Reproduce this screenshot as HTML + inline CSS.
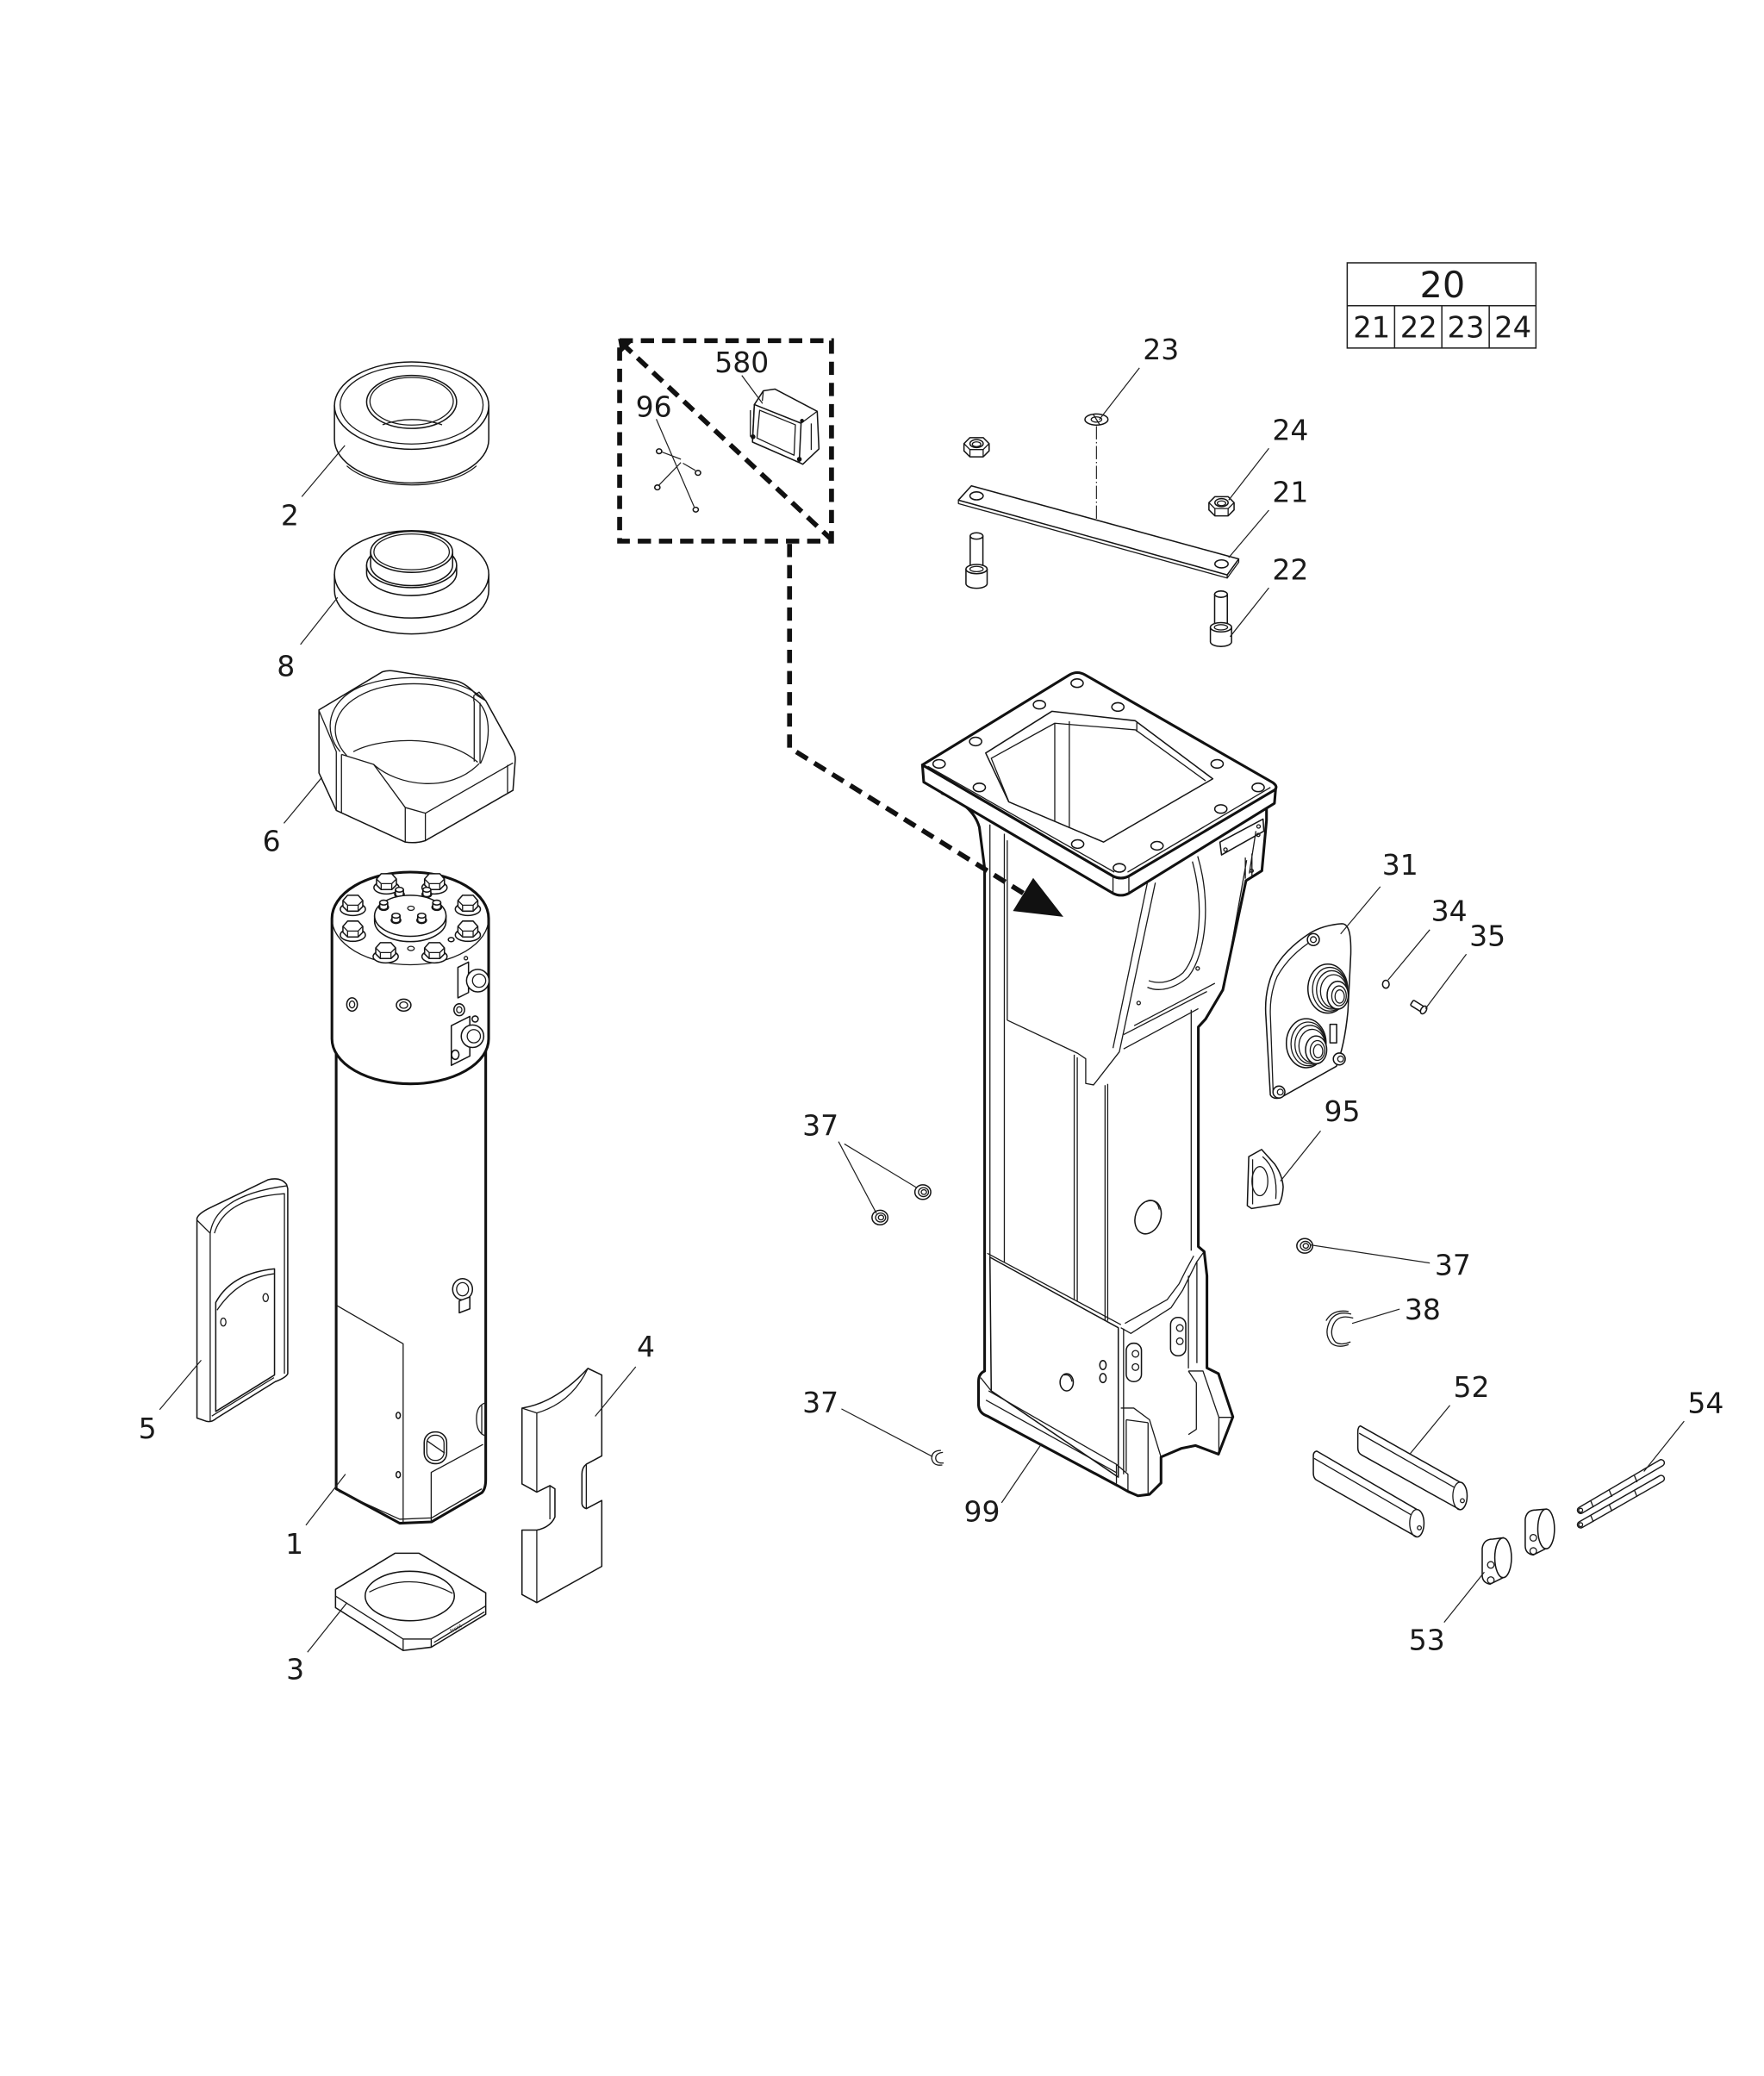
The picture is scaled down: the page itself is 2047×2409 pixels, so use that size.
<!DOCTYPE html>
<html><head><meta charset="utf-8"><style>
html,body{margin:0;padding:0;background:#fff}
svg{display:block}
text{font-family:"DejaVu Sans","Liberation Sans",sans-serif;fill:#1a1a1a}
.l{fill:none;stroke:#222;stroke-width:.8}
.p{fill:#fff;stroke:#151515;stroke-width:1;stroke-linejoin:round}
.k{fill:#fff;stroke:#111;stroke-width:2;stroke-linejoin:round}
.n{fill:none;stroke:#1a1a1a;stroke-width:.85;stroke-linejoin:round}
.nk{fill:none;stroke:#111;stroke-width:2;stroke-linejoin:round;stroke-linecap:round}
.d{fill:none;stroke:#111;stroke-width:3.7;stroke-dasharray:10,6}
</style></head><body>
<svg width="2047" height="2409" viewBox="0 0 1332.9 1568.7" xmlns="http://www.w3.org/2000/svg">
<defs>
<g id="hb">
<ellipse class="p" cx="0" cy="4" rx="9.5" ry="4.8" stroke-width="1.2"/>
<path class="p" d="M-7.5,-2.5 L-4,-6.5 L4,-6.5 L7.5,-2.5 V2 L4,5.5 L-4,5.5 L-7.5,2 Z" stroke-width="1.2"/>
<path class="n" d="M-7.5,-2.5 L-4,1 L4,1 L7.5,-2.5 M-4,1 V5.5 M4,1 V5.5"/>
</g>
<g id="nut">
<path class="p" d="M-9.5,-2.5 L-5,-7 L5,-7 L9.5,-2.5 V3 L5,7.5 L-5,7.5 L-9.5,3 Z"/>
<path class="n" d="M-9.5,-2.5 L-5,2 L5,2 L9.5,-2.5 M-5,2 V7.5 M5,2 V7.5"/>
<ellipse class="p" cx="0" cy="-2.5" rx="5" ry="3"/>
<ellipse class="n" cx="0" cy="-2" rx="3.2" ry="1.8"/>
</g>
<g id="cs">
<path class="p" d="M-4.8,3 V26 A4.8,2.4 0 0 0 4.8,26 V3 Z"/>
<ellipse class="p" cx="0" cy="3" rx="4.8" ry="2.4"/>
<path class="p" d="M-8,28 V39 A8,3.5 0 0 0 8,39 V28 Z"/>
<ellipse class="p" cx="0" cy="28" rx="8" ry="3.5"/>
<ellipse class="n" cx="0" cy="28" rx="5" ry="2"/>
</g>
<g id="r37">
<ellipse class="p" cx="0" cy="0" rx="6" ry="5.5" stroke-width="1.4"/>
<ellipse class="n" cx="0.5" cy="0" rx="3.8" ry="3.4" stroke-width="1.1"/>
<ellipse class="n" cx="0.8" cy="0" rx="2" ry="1.8" stroke-width="1.1"/>
</g>
<g id="ss">
<ellipse class="p" cx="0" cy="1.5" rx="3.6" ry="2.4"/>
<path class="p" d="M-3,-2 V1.5 A3,1.8 0 0 0 3,1.5 V-2 Z"/>
<ellipse class="p" cx="0" cy="-2" rx="3" ry="1.8"/>
</g>
<g id="conn">
<ellipse class="p" cx="0" cy="0" rx="15" ry="18.5" stroke-width="1.8"/>
<ellipse class="n" cx="1.5" cy="0.5" rx="13" ry="16.5" stroke-width="1.4"/>
<ellipse class="n" cx="3" cy="1" rx="11.5" ry="14.5" stroke-width="1.5"/>
<ellipse class="n" cx="4.5" cy="2" rx="10" ry="12.5" stroke-width="1.3"/>
<ellipse class="p" cx="7.5" cy="5" rx="8" ry="10.5" stroke-width="1.3"/>
<ellipse class="n" cx="8.5" cy="5.5" rx="5.5" ry="7.5" stroke-width="1.1"/>
<ellipse class="n" cx="9" cy="6" rx="3.5" ry="5" stroke-width="1.1"/>
</g>
</defs>

<!-- ===== Table ===== -->
<rect x="1018" y="198.6" width="142.6" height="64.4" fill="#fff" stroke="#222" stroke-width="1"/>
<line x1="1018" y1="231" x2="1160.6" y2="231" stroke="#222" stroke-width="1"/>
<line x1="1053.8" y1="231" x2="1053.8" y2="263" stroke="#222" stroke-width="1"/>
<line x1="1089.5" y1="231" x2="1089.5" y2="263" stroke="#222" stroke-width="1"/>
<line x1="1125.3" y1="231" x2="1125.3" y2="263" stroke="#222" stroke-width="1"/>
<text x="1090" y="224.8" font-size="27" text-anchor="middle">20</text>
<text x="1036.5" y="255" font-size="22" text-anchor="middle">21</text>
<text x="1072" y="255" font-size="22" text-anchor="middle">22</text>
<text x="1107.6" y="255" font-size="22" text-anchor="middle">23</text>
<text x="1143.2" y="255" font-size="22" text-anchor="middle">24</text>

<!-- ===== Part 2 ring ===== -->
<path class="p" d="M252.7,306.5 V332 A58.3,33 0 0 0 369.3,332 V306.5 Z" stroke-width="1.1"/>
<path class="n" d="M262,352 A56,28 0 0 0 360,352"/>
<ellipse class="p" cx="311" cy="306.5" rx="58.3" ry="33" stroke-width="1.1"/>
<ellipse class="n" cx="311" cy="306" rx="54" ry="29.5"/>
<ellipse class="p" cx="311" cy="303.7" rx="34" ry="20"/>
<ellipse class="n" cx="311" cy="303.2" rx="31.5" ry="18"/>
<path class="n" d="M289,321 Q311,313 334,321"/>

<!-- ===== Part 8 ===== -->
<path class="p" d="M252.7,434 V446 A58.3,33 0 0 0 369.3,446 V434 Z" stroke-width="1.1"/>
<ellipse class="p" cx="311" cy="434" rx="58.3" ry="33" stroke-width="1.1"/>
<path class="p" d="M277,427 V433 A34,17 0 0 0 345,433 V427 Z"/>
<ellipse class="p" cx="311" cy="427" rx="34" ry="17"/>
<path class="p" d="M280,417 V427 A31,15.5 0 0 0 342,427 V417 Z"/>
<ellipse class="p" cx="311" cy="417" rx="31" ry="15.5"/>
<ellipse class="n" cx="311" cy="417" rx="28.5" ry="13.5"/>

<!-- ===== Part 6 ===== -->
<path class="p" d="M241,536.4 L288.8,507.7 Q293,506.3 297.5,507 L345.3,514.6 Q353,517 360.5,525.5 L367,529.4 L387.6,566.8 Q389.8,571 389.2,576 L387.6,597.2 L321.4,635.2 Q314,637.5 306.2,636.3 L254.1,612.4 L241,584.1 Z" stroke-width="1.2"/>
<path class="n" d="M262,571 C248,556 250,536 275,524 C300,512 345,515 362,531 C372,542 370,562 363,577"/>
<path class="n" d="M257,568 C244,553 247,530 272,519 C300,507 348,511 365,528"/>
<path class="n" d="M267,568 C285,558 335,553 361,576"/>
<path class="n" d="M282.3,577.6 C300,594 340,600 362,577"/>
<path class="n" d="M241,537 L254.1,568 V612.4 M258,570 V614 M258,570 L282.3,577.6 L306.2,610.2 L321.4,614.5 L387.6,576.5 M306.2,610.2 V636 M321.4,614.5 V635 M358.3,529.8 V575.5 M362.7,531 V577 M358,525.5 L362,523 L367,529.4 M358,525.5 V530 M383.5,578 V599"/>

<!-- ===== Part 1 body ===== -->
<path class="k" d="M254,790 V1125 L302,1151 L326,1150 L364,1128 Q367,1125 367,1118 V790"/>
<path class="n" d="M254.8,986.7 L304.6,1015.4 V1151 M325.8,1150 V1112.6 L365,1091.4 M256,1127 L302,1148 L326,1147 L364,1125"/>
<ellipse class="p" cx="300.9" cy="1069.5" rx="1.6" ry="2.3"/>
<ellipse class="p" cx="300.9" cy="1114.3" rx="1.6" ry="2.3"/>
<rect class="p" x="320.5" y="1082" width="17" height="24" rx="8"/>
<rect class="n" x="322.5" y="1084.5" width="13" height="19" rx="6"/>
<path class="n" d="M323,1089 L336,1098"/>
<path class="n" d="M367,1060 Q360,1062 360,1072 Q360,1083 367,1085 M364,1062 V1084"/>
<ellipse class="p" cx="349.5" cy="974.2" rx="7.5" ry="8" stroke-width="1.2"/>
<ellipse class="n" cx="349.5" cy="974.2" rx="4.5" ry="5"/>
<path class="p" d="M347,983 L355,980 V989 L347,992 Z"/>

<!-- Part 1 head -->
<path class="k" d="M250.8,694 A59.2,35 0 0 1 369.2,694 V785 A59.2,34 0 0 1 250.8,785 Z"/>
<path class="n" d="M250.8,694 A59.2,35 0 0 0 369.2,694" stroke-width="1"/>
<use href="#hb" x="292" y="666.7"/>
<use href="#hb" x="328.3" y="666.7"/>
<use href="#ss" x="301.8" y="674.3"/>
<use href="#ss" x="322.5" y="674.3"/>
<use href="#hb" x="266.6" y="683"/>
<use href="#hb" x="353.5" y="683"/>
<path class="p" d="M283,692 V696 A27,15.5 0 0 0 337,696 V692 Z"/>
<ellipse class="p" cx="310" cy="692" rx="27" ry="15.5"/>
<use href="#ss" x="289.9" y="684"/>
<use href="#ss" x="330" y="684"/>
<use href="#ss" x="299.2" y="693.9"/>
<use href="#ss" x="318.6" y="693.9"/>
<ellipse class="n" cx="310.5" cy="686.3" rx="2.5" ry="1.6"/>
<use href="#hb" x="266.6" y="702.5"/>
<use href="#hb" x="353.5" y="702.5"/>
<ellipse class="n" cx="310.5" cy="716.7" rx="2.5" ry="1.6"/>
<ellipse class="p" cx="340.9" cy="710" rx="2.2" ry="1.6"/>
<use href="#hb" x="291.4" y="718.8"/>
<use href="#hb" x="328.3" y="718.8"/>
<path class="p" d="M346,731 L354,727 V750 L346,754 Z"/>
<circle class="p" cx="361" cy="741" r="8.5" stroke-width="1.4"/>
<circle class="n" cx="362" cy="741" r="5"/>
<circle class="n" cx="352" cy="724" r="1.3"/>
<path class="p" d="M341,775 L355,768 V798 L341,805 Z"/>
<circle class="p" cx="357" cy="783" r="8.5" stroke-width="1.4"/>
<circle class="n" cx="358" cy="783" r="5"/>
<ellipse class="p" cx="344" cy="797" rx="2.8" ry="3.5"/>
<circle class="p" cx="359" cy="770" r="2.3"/>
<ellipse class="p" cx="266" cy="759" rx="4" ry="5"/>
<ellipse class="n" cx="266" cy="759" rx="2" ry="2.6"/>
<ellipse class="p" cx="305" cy="759.5" rx="5.5" ry="4.5"/>
<ellipse class="n" cx="305" cy="759.5" rx="3" ry="2.4"/>
<ellipse class="p" cx="347" cy="763" rx="4" ry="4.5"/>
<ellipse class="n" cx="347" cy="763" rx="2" ry="2.3"/>

<!-- ===== Part 5 ===== -->
<path class="p" d="M148.8,920.6 Q150,917 158,913 L202.4,891.5 Q212,889 216.5,895 L217.4,898.2 V1038 Q216,1041 208,1044 L163.8,1071.5 Q160,1075 156,1074 L148.8,1071.5 Z" stroke-width="1.2"/>
<path class="n" d="M148.8,922 L158.8,931.9 V1074 M158.8,931.9 Q163,903 217,896 M162,931.9 Q170,905 214.9,902 V1038"/>
<path class="p" d="M163,984.2 Q175,962 207.4,958.8 V1039 L163,1066.5 Z"/>
<path class="n" d="M164,990 Q180,966 207,962.5 M160,1070 L207,1041"/>
<ellipse class="n" cx="168.7" cy="999" rx="2" ry="3"/>
<ellipse class="n" cx="200.7" cy="980.5" rx="2" ry="3"/>

<!-- ===== Part 4 ===== -->
<path class="p" d="M394.4,1064 Q420,1060 444.2,1034 L454.7,1039 V1100.1 L443,1106.4 Q439.7,1109 439.7,1113.8 V1136.3 Q440,1139 443,1140 L454.7,1133.8 V1183.6 L405.6,1211 L394.4,1204.9 V1156.2 L405.6,1156.2 Q416,1154 419.3,1146.3 V1125 L415.5,1122.6 L405.6,1127.5 L394.4,1121.3 Z" stroke-width="1.1"/>
<path class="n" d="M394.4,1064 L405.6,1067.7 Q432,1060 444.2,1034 M405.6,1067.7 V1127.5 M405.6,1156.2 V1211 M443,1106.4 V1140 M415.5,1122.6 V1148"/>

<!-- ===== Part 3 ===== -->
<path class="p" d="M253.5,1201 L298.4,1173.7 L316.6,1173.7 L367,1203.6 V1219.8 L325.8,1244.7 L304.6,1247.2 L253.5,1214.8 Z" stroke-width="1.1"/>
<path class="n" d="M253.5,1206 L304.6,1238.5 L325.8,1238.5 L367,1213.5 M304.6,1238.5 V1247.2 M325.8,1238.5 V1244.7 M328,1241 L366,1218"/>
<ellipse class="p" cx="309.6" cy="1206" rx="33.7" ry="18.7"/>
<path class="n" d="M279,1203 Q310,1187 342,1204"/>
<text x="0" y="0" font-size="4" transform="translate(341,1234) rotate(-30)">front</text>

<!-- ===== Frame 99 body ===== -->
<path d="M712,599.5 L744,656 V1036 L739.4,1062 L846,1123 L870,1129 L877,1101 L903,1092 L921,1099 L932,1071 L912,1034 V964 L905.5,942 V776 L924,748 L941.5,665.5 L957,620 L950,600 L850,670 Z" fill="#fff" stroke="none"/>
<path class="n" d="M748,623 V950 M758.9,630 V954 M761.1,635 V771"/>
<path class="n" d="M873,667 L845.8,794.8 L826.3,819.8 L820.4,818.7 V800 L814.3,795.9 L761.1,770.9 M867,667 L841,792"/>
<path class="n" d="M811.7,797 V982 M814,799 V983 M835,820 V998 M837,819 V998 M900.1,763 V945"/>
<path class="n" d="M905,647 C915,680 912,720 898,738 C888,747 876,750 867,746 M901,651 C910,684 907,720 894,735 C886,742 876,744 868,741"/>
<path class="n" d="M849,781.8 L912,749.2 M849,792.6 L905.5,762.2 M857,775 L918,743"/>
<circle class="n" cx="905" cy="731.8" r="1.3"/>
<circle class="n" cx="860.4" cy="757.9" r="1.3"/>
<ellipse class="p" cx="867.5" cy="919.7" rx="9.5" ry="13" transform="rotate(20 867.5 919.7)"/>
<path class="n" d="M866,908 Q874,905 876,914"/>
<!-- right bracket -->
<path class="p" d="M921.8,636.3 L954.4,618.9 L955,628 L923,646 Z"/>
<circle class="n" cx="926" cy="642" r="1.3"/>
<circle class="n" cx="951" cy="624.5" r="1.3"/>
<path class="n" d="M941,648 V664 M946,645 V662 M949,628 L944,660 M942,650 L925,746"/>
<circle class="n" cx="950.8" cy="630.9" r="1.2"/>
<circle class="n" cx="945.8" cy="658" r="1.2"/>
<!-- lower front plate -->
<path class="p" d="M748,950 L845,1003.3 V1116.2 L749,1051 Z"/>
<path class="n" d="M746,947 L847,1001 M849,1004 V1114"/>
<path class="n" d="M846.9,1003.3 L854.5,1007.6 L884.9,988.1 L893.6,975 L897.9,966.3 L904.4,953.3 L909.9,945.7 M850,1000 L882,982 L891,970 L896,960 L902,949 M904.4,953 V1030 M898,964 V1034"/>
<ellipse class="p" cx="806" cy="1044.5" rx="5" ry="6.5"/>
<path class="n" d="M804,1039 Q809,1038 810,1044"/>
<ellipse class="p" cx="833.4" cy="1031.5" rx="2.4" ry="3.4"/>
<ellipse class="p" cx="833.4" cy="1041.3" rx="2.4" ry="3.4"/>
<rect class="p" x="851" y="1015" width="11.5" height="29" rx="5.5"/>
<circle class="n" cx="858" cy="1023" r="2.5"/>
<circle class="n" cx="858" cy="1033" r="2.5"/>
<rect class="p" x="884.5" y="995.5" width="11.5" height="29" rx="5.5"/>
<circle class="n" cx="891.5" cy="1003.5" r="2.5"/>
<circle class="n" cx="891.5" cy="1013.5" r="2.5"/>
<!-- foot blocks -->
<path class="n" d="M846.9,1064 L856.7,1064 L868.6,1072.8 L877.3,1101 M851,1072.8 L867.5,1075 M867.5,1075 V1129 M851,1072.8 V1112"/>
<path class="n" d="M898,1036 L909,1036 L921,1071 L931.6,1071 M898,1036 L904,1045 V1080 L898,1084 M921,1071 V1098"/>
<path class="n" d="M843.6,1106.5 L852.3,1114 V1127 M843.6,1106.5 V1121 M747,1051 L843.6,1106.5 M745,1058 L844,1113 M741,1041 L749,1051"/>
<!-- thick outline -->
<path class="nk" d="M712,599.5 Q735,608 740,625 L744,656 V1036 Q739.4,1038 739.4,1044 V1062 Q740,1068 746,1070 L844.7,1122.7 L852.3,1127 L859.9,1130.3 L868.6,1129.2 L877.3,1120.6 V1101 L892.5,1094.5 L903.4,1092.3 L920.7,1098.8 L931.6,1070.6 L920.7,1038 L912,1033.7 V964 L909.9,945.7 L905.5,942 V776 L911,770 L924,748 L941.5,665.5 L953.5,658 L957,620 V607"/>

<!-- flange -->
<path class="k" d="M697,578 L841,662 Q847,665 853,662 L964,595 L963,607 L853,675 Q847,678 841,675 L698,591 Z"/>
<path class="k" d="M697,578 L808,510 Q814,506.5 820,510 L962,591.5 Q966,594.5 963,597 L853,662 Q847,665 841,662 Z"/>
<path class="n" d="M841,662 V675 M853,662 V675 M701,579 L842,659 M852,659 L960,595"/>
<ellipse class="p" cx="813.9" cy="516.2" rx="4.6" ry="3.2"/>
<ellipse class="p" cx="785.4" cy="532.5" rx="4.6" ry="3.2"/>
<ellipse class="p" cx="844.7" cy="534.2" rx="4.6" ry="3.2"/>
<ellipse class="p" cx="737.2" cy="560.3" rx="4.6" ry="3.2"/>
<ellipse class="p" cx="709.6" cy="577.2" rx="4.6" ry="3.2"/>
<ellipse class="p" cx="740" cy="595" rx="4.6" ry="3.2"/>
<ellipse class="p" cx="919.7" cy="577.2" rx="4.6" ry="3.2"/>
<ellipse class="p" cx="950.7" cy="595" rx="4.6" ry="3.2"/>
<ellipse class="p" cx="922.5" cy="611.3" rx="4.6" ry="3.2"/>
<ellipse class="p" cx="814.3" cy="637.8" rx="4.6" ry="3.2"/>
<ellipse class="p" cx="874.3" cy="639.1" rx="4.6" ry="3.2"/>
<ellipse class="p" cx="845.8" cy="655.8" rx="4.6" ry="3.2"/>
<path class="p" d="M744.8,569 L794.8,537.5 L857.8,544.6 L916.4,588.5 L833.9,636.3 L762.2,605.9 Z"/>
<path class="n" d="M762,605 L749,573 L797,546.5 L858,551.5 L911,590 M797,546.5 V620.6 M808,545 V625 M859,546 V553"/>

<!-- ===== dashed box & arrow ===== -->
<rect class="d" x="468.2" y="257.4" width="160.1" height="151.5"/>
<path class="d" d="M470,259.5 L627,406.5"/>
<path d="M467,256 L478,258 L469,267 Z" fill="#111"/>
<path class="d" d="M596.6,411 V565 L783,681"/>
<path d="M765.4,688.4 L803.5,692.8 L780.7,663.4 Z" fill="#111"/>

<!-- 580 -->
<path class="p" d="M576.8,295.3 L585.5,294 L617.5,310.8 L618.8,339.2 L606.6,350.8 L603.9,349.5 L568.6,334 L570,305.7 Z" stroke-width="1.2"/>
<path class="p" d="M570,305.7 L605.3,319.8 L603.9,349.5 L568.6,334 Z" stroke-width="1.2"/>
<path class="n" d="M574,310 L601,321 L600,344 L572,331 Z M605.3,319.8 L617.5,310.8 M576.8,295.3 L576,303"/>
<circle cx="569" cy="330" r="1.8" fill="#111"/>
<circle cx="604" cy="347" r="1.8" fill="#111"/>
<circle cx="606" cy="318" r="1.5" fill="#111"/>
<path class="n" d="M567,310 V330 M613,320 V340"/>
<!-- 96 -->
<ellipse class="p" cx="498" cy="341" rx="2" ry="1.8"/>
<ellipse class="p" cx="527.4" cy="357.3" rx="2" ry="1.8"/>
<ellipse class="p" cx="496.7" cy="368.3" rx="2" ry="1.8"/>
<ellipse class="p" cx="525.7" cy="385.1" rx="2" ry="1.8"/>
<path class="l" d="M495.9,316.7 L524.5,383 M500,341.5 L514.5,347 M514.5,349.5 L498,366.5 M516,350 L525.5,355.5"/>

<!-- ===== 21-24 ===== -->
<ellipse class="p" cx="828.5" cy="317" rx="8.7" ry="4.2" stroke-width="1.2"/>
<ellipse class="n" cx="828.5" cy="317" rx="4" ry="2"/>
<path class="n" d="M826,313 L831,321"/>
<path d="M828.5,322 V400" stroke="#222" stroke-width=".75" stroke-dasharray="10,2,1,2" fill="none"/>
<use href="#nut" x="737.9" y="337.7"/>
<path class="p" d="M724.2,377.9 L734,367.1 L936,422.4 L927.3,434.4 Z"/>
<path class="n" d="M724.2,377.9 V380.5 L927.3,436.8 V434.4 M927.3,436.8 L936,424.8 V422.4"/>
<ellipse class="p" cx="737.9" cy="374.7" rx="5" ry="3"/>
<ellipse class="p" cx="923" cy="426.1" rx="5" ry="3"/>
<use href="#nut" x="923" y="382.3"/>
<use href="#cs" x="737.9" y="402"/>
<use href="#cs" x="922.6" y="446"/>

<!-- ===== Part 31 ===== -->
<path class="p" d="M1014,698 Q1000,699 990,705 Q970,718 962,734 Q955,750 956.6,769 L959.9,827.4 Q962,831 967.5,829.5 L1009.8,805.7 Q1016,790 1018.5,764.4 L1020.7,721 Q1021,706 1018.5,701.4 Q1017,698 1014,698 Z" stroke-width="1.1"/>
<path class="n" d="M996,708 Q975,720 965,738 Q959,752 960,769 L962,825"/>
<use href="#conn" x="1003.3" y="747"/>
<rect class="p" x="1005" y="774" width="5" height="14"/>
<use href="#conn" x="987" y="788.3"/>
<circle class="p" cx="992.4" cy="710" r="4.5" stroke-width="1.4"/>
<circle class="n" cx="992.4" cy="710" r="2.2"/>
<circle class="p" cx="1012" cy="800.2" r="4.5" stroke-width="1.4"/>
<circle class="n" cx="1013" cy="800.2" r="2.2"/>
<circle class="p" cx="966.4" cy="825.2" r="4.5" stroke-width="1.4"/>
<circle class="n" cx="967.4" cy="825.2" r="2.2"/>
<ellipse class="p" cx="1047.2" cy="743.7" rx="2.5" ry="3" stroke-width="1.3"/>
<g transform="translate(1071.5,760.5) rotate(32)"><rect class="p" x="-5.5" y="-2.3" width="11" height="4.6" rx="1"/><ellipse class="p" cx="5" cy="0" rx="2" ry="3.2" stroke-width="1.3"/></g>

<!-- ===== Part 95 ===== -->
<path class="p" d="M943.6,874 L953.3,868.6 L963.1,879.5 Q969,888 969.6,896.9 Q969,906 966.4,909.9 L945.7,913.2 L942.5,911 Z" stroke-width="1.3"/>
<ellipse class="n" cx="952" cy="892.5" rx="6" ry="11" stroke-width="1.1"/>
<path class="n" d="M946.5,876 V910 M954,874 Q966,884 964,906"/>

<!-- ===== 37 / 38 ===== -->
<use href="#r37" x="664.9" y="920"/>
<use href="#r37" x="697.3" y="900.8"/>
<use href="#r37" x="985.9" y="941.4"/>
<path class="n" d="M711,1096 Q704,1096 704,1102 Q705,1108 712,1107 M712.5,1097.5 Q707,1098 707,1102 Q707.5,1106 713,1105.5" stroke-width="1.1"/>
<path class="n" d="M1021,993 Q1010,990 1005,998 Q1000,1008 1006,1015 Q1011,1019 1019,1016 M1022.5,996 Q1012,993 1008,1000 Q1004,1008 1009,1014 Q1013,1017 1020.5,1014 M1019,991 Q1007,989 1002,998" stroke-width="1.2"/>

<!-- ===== 52 bars ===== -->
<path class="p" d="M1028,1077.5 L1103.2,1120 A5.4,10.4 0 0 1 1103.2,1140.8 L1029,1099.5 Q1026,1098 1026,1094 V1082 Q1026,1078 1028,1077.5 Z" stroke-width="1.2"/>
<path class="n" d="M1103.2,1120 A5.4,10.4 0 0 0 1103.2,1140.8 M1027,1083 L1099,1124"/>
<circle class="n" cx="1105" cy="1134" r="1.5"/>
<path class="p" d="M995,1096.5 L1070.6,1140.6 A5.4,10.4 0 0 1 1070.6,1161.4 L995,1118.5 Q992.4,1117 992.4,1113 V1100 Q992.4,1097 995,1096.5 Z" stroke-width="1.2"/>
<path class="n" d="M1070.6,1140.6 A5.4,10.4 0 0 0 1070.6,1161.4 M993,1102 L1066,1144.5"/>
<circle class="n" cx="1072.5" cy="1154.5" r="1.5"/>

<!-- ===== 53 ===== -->
<path class="p" d="M1120,1170 Q1121,1163 1128,1163 L1136,1162 L1136,1192 L1126,1197 Q1120,1196 1120,1190 Z"/>
<ellipse class="p" cx="1135.8" cy="1177.1" rx="6.3" ry="15" stroke-width="1.5"/>
<circle class="n" cx="1126.5" cy="1182.5" r="2.5"/>
<circle class="n" cx="1126.5" cy="1194" r="2.5"/>
<path class="p" d="M1152.5,1148 Q1153.5,1141 1160.5,1141 L1168.5,1140.3 L1168.5,1170 L1158.5,1175 Q1152.5,1174 1152.5,1168 Z"/>
<ellipse class="p" cx="1168.3" cy="1155.3" rx="6.3" ry="15" stroke-width="1.5"/>
<circle class="n" cx="1158.6" cy="1162" r="2.5"/>
<circle class="n" cx="1158.6" cy="1172" r="2.5"/>

<!-- ===== 54 pins ===== -->
<path d="M1194.4,1141.2 L1255.2,1105.4 M1194.4,1152.1 L1255.2,1117.3" stroke="#1a1a1a" stroke-width="5.8" stroke-linecap="round" fill="none"/>
<path d="M1194.4,1141.2 L1255.2,1105.4 M1194.4,1152.1 L1255.2,1117.3" stroke="#fff" stroke-width="3.9" stroke-linecap="round" fill="none"/>
<path class="n" d="M1202,1134 L1204,1139 M1216,1126 L1218,1131 M1235,1115 L1237,1120 M1202,1145 L1204,1150 M1216,1137 L1218,1142 M1235,1126 L1237,1131"/>
<circle class="n" cx="1194.4" cy="1141.2" r="1.5"/>
<circle class="n" cx="1194.4" cy="1152.1" r="1.5"/>

<!-- ===== leader lines ===== -->
<path class="l" d="M228,375.3 L260.6,336.6 M227,487 L255.1,451.4 M214.5,622.1 L243.2,587.4 M231.1,1152.5 L261,1113.9 M232.3,1248.5 L262.2,1211 M120.6,1065.2 L152,1027.8 M480.4,1032.8 L449.7,1070.2 M560.5,283.7 L576.2,304.9 M861,278 L830.6,317.1 M958.8,338.8 L928.4,377.9 M958.8,385.5 L928.4,421.4 M958.8,444.2 L929.5,481.1 M1043,670 L1013,705.7 M1080.4,702.5 L1048.9,740.5 M1108,721 L1077.1,762.2 M997.9,854.5 L967.5,892.5 M633.6,862.6 L662.3,917 M638,864.4 L692.7,897.5 M1080.4,954.4 L990.2,940.7 M1057.6,989.2 L1021.7,1000 M635.8,1064.6 L704.7,1100.7 M787.2,1090.7 L756.8,1135.6 M1095.6,1061.9 L1065.2,1098.9 M1272.6,1073.9 L1242.2,1111.9 M1091.2,1225.9 L1121.6,1187.9"/>

<!-- ===== labels ===== -->
<g font-size="21.5" text-anchor="middle">
<text x="219" y="396.8">2</text>
<text x="216" y="510.8">8</text>
<text x="205.2" y="643">6</text>
<text x="222.4" y="1174">1</text>
<text x="223.1" y="1268.7">3</text>
<text x="111.4" y="1086.8">5</text>
<text x="488" y="1024.8">4</text>
<text x="560.5" y="281.2">580</text>
<text x="494" y="314.8">96</text>
<text x="877.3" y="271.7">23</text>
<text x="975" y="332.5">24</text>
<text x="975" y="379.2">21</text>
<text x="975" y="437.8">22</text>
<text x="1058" y="660.8">31</text>
<text x="1095" y="695.8">34</text>
<text x="1124" y="714.8">35</text>
<text x="1014.2" y="847.1">95</text>
<text x="620" y="858">37</text>
<text x="1097.8" y="963.3">37</text>
<text x="1075" y="997">38</text>
<text x="620" y="1067.4">37</text>
<text x="742" y="1149.8">99</text>
<text x="1111.9" y="1055.6">52</text>
<text x="1288.9" y="1067.6">54</text>
<text x="1078.2" y="1246.8">53</text>
</g>
</svg>
</body></html>
